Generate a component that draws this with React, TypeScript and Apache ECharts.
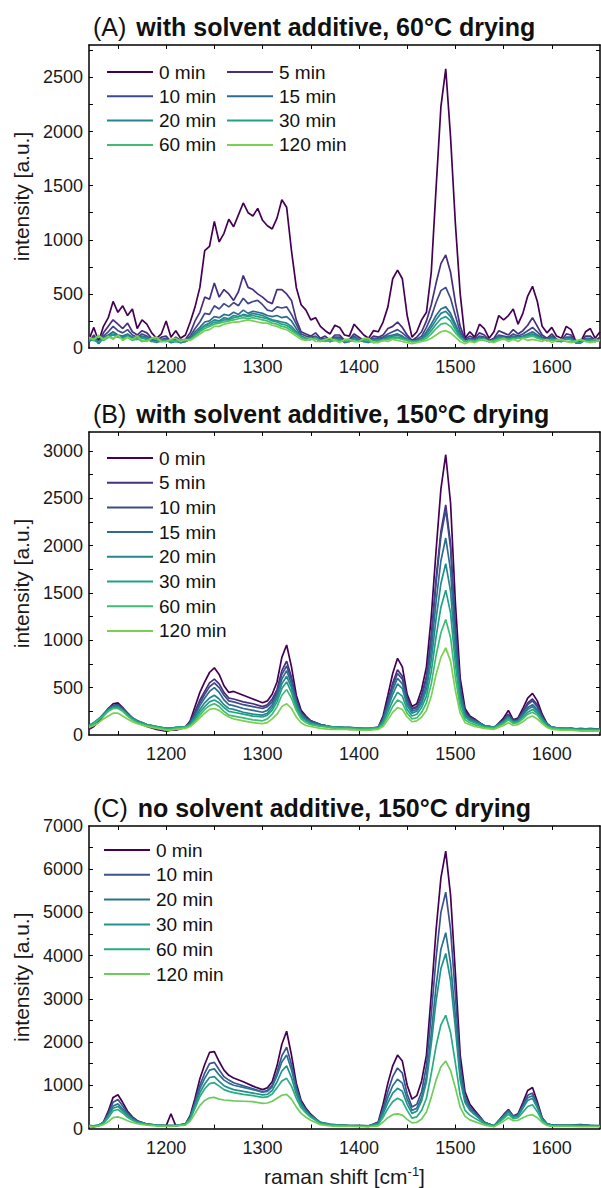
import React, { useEffect, useRef } from "react";
import * as echarts from "echarts";

const FONT = "'Liberation Sans', Arial, Helvetica, sans-serif";

// Raman shift sampling positions [cm^-1] for panel A (every 5 cm^-1)
const ramanShiftA = [
  1120, 1125, 1130, 1135, 1140, 1145, 1150, 1155, 1160, 1165,
  1170, 1175, 1180, 1185, 1190, 1195, 1200, 1205, 1210, 1215,
  1220, 1225, 1230, 1235, 1240, 1245, 1250, 1255, 1260, 1265,
  1270, 1275, 1280, 1285, 1290, 1295, 1300, 1305, 1310, 1315,
  1320, 1325, 1330, 1335, 1340, 1345, 1350, 1355, 1360, 1365,
  1370, 1375, 1380, 1385, 1390, 1395, 1400, 1405, 1410, 1415,
  1420, 1425, 1430, 1435, 1440, 1445, 1450, 1455, 1460, 1465,
  1470, 1475, 1480, 1485, 1490, 1495, 1500, 1505, 1510, 1515,
  1520, 1525, 1530, 1535, 1540, 1545, 1550, 1555, 1560, 1565,
  1570, 1575, 1580, 1585, 1590, 1595, 1600, 1605, 1610, 1615,
  1620, 1625, 1630, 1635, 1640, 1645, 1650,
];

// Raman shift sampling positions [cm^-1] for panels B and C
const ramanShift = [
  1120, 1125, 1130, 1135, 1140, 1145, 1150, 1155, 1160, 1165, 1170,
  1180, 1190, 1200, 1205, 1210, 1220,
  1225, 1230, 1235, 1240, 1245, 1250, 1255, 1260, 1265, 1270,
  1280, 1290, 1300,
  1305, 1310, 1315, 1320, 1325, 1330, 1335, 1340, 1345, 1350,
  1360, 1370, 1380, 1390, 1400, 1410, 1420,
  1425, 1430, 1435, 1440, 1445, 1450, 1455, 1460, 1465, 1470, 1475, 1480, 1485, 1490, 1495, 1500, 1505, 1510, 1515,
  1520, 1530, 1540, 1550,
  1555, 1560, 1565, 1570, 1575, 1580, 1585, 1590, 1595,
  1600, 1610, 1620, 1630, 1640, 1650,
];

const timesAB = ["0 min", "5 min", "10 min", "15 min", "20 min", "30 min", "60 min", "120 min"];
const timesC = ["0 min", "10 min", "20 min", "30 min", "60 min", "120 min"];

const xTickLabels = [1200, 1300, 1400, 1500, 1600];
const xTicks = [1150, 1200, 1250, 1300, 1350, 1400, 1450, 1500, 1550, 1600];
const yLabelsA = [0, 500, 1000, 1500, 2000, 2500];
const yTicksA = [250, 500, 750, 1000, 1250, 1500, 1750, 2000, 2250, 2500, 2750];
const yLabelsB = [0, 500, 1000, 1500, 2000, 2500, 3000];
const yTicksB = [250, 500, 750, 1000, 1250, 1500, 1750, 2000, 2250, 2500, 2750, 3000];
const yLabelsC = [0, 1000, 2000, 3000, 4000, 5000, 6000, 7000];
const yTicksC = [500, 1000, 1500, 2000, 2500, 3000, 3500, 4000, 4500, 5000, 5500, 6000, 6500];

// (A) with solvent additive, 60°C drying
const a0 = [
  80, 190, 60, 200, 280, 430, 330, 390, 300, 360,
  180, 260, 220, 140, 90, 130, 250, 100, 160, 90,
  120, 240, 380, 560, 900, 940, 1170, 980, 1060, 1190,
  1120, 1230, 1340, 1250, 1220, 1290, 1180, 1130, 1100, 1200,
  1370, 1300, 900, 560, 400, 350, 260, 280, 200, 160,
  130, 210, 190, 120, 110, 220, 170, 120, 90, 160,
  150, 240, 380, 640, 720, 640, 300, 100, 150, 260,
  330, 700, 1480, 2230, 2580, 1950, 1150, 500, 90, 150,
  100, 220, 180, 90, 150, 300, 260, 300, 360, 220,
  320, 480, 570, 430, 200, 140, 190, 110, 90, 200,
  170, 60, 60, 150, 180, 90, 150,
];
const a1 = [
  60, 120, 50, 140, 200, 260, 220, 180, 230, 150,
  120, 160, 140, 90, 70, 100, 110, 60, 100, 70,
  80, 140, 250, 330, 470, 450, 600, 470, 540, 500,
  440, 520, 670, 560, 540, 500, 470, 430, 410, 540,
  540, 500, 440, 260, 150, 130, 110, 140, 90, 110,
  70, 120, 120, 70, 80, 130, 100, 70, 70, 110,
  100, 120, 180, 200, 240, 190, 120, 70, 100, 150,
  250, 400, 600, 780, 860, 700, 420, 200, 80, 110,
  90, 140, 120, 70, 90, 160, 140, 120, 170, 130,
  160, 210, 280, 200, 120, 90, 130, 80, 70, 130,
  120, 50, 50, 110, 110, 70, 100,
];
const a2 = [
  70, 100, 50, 110, 150, 200, 160, 140, 170, 120,
  100, 130, 110, 80, 60, 80, 90, 60, 80, 60,
  70, 110, 180, 240, 320, 310, 390, 360, 410, 380,
  420, 390, 460, 410, 430, 440, 400, 350, 340, 380,
  370, 380, 310, 220, 130, 110, 100, 110, 80, 90,
  60, 100, 100, 60, 70, 110, 80, 60, 60, 90,
  90, 100, 130, 150, 170, 140, 100, 60, 80, 110,
  190, 290, 420, 530, 560, 460, 300, 150, 70, 90,
  80, 110, 100, 60, 80, 120, 110, 100, 130, 110,
  130, 160, 190, 150, 100, 80, 110, 70, 60, 100,
  100, 50, 50, 90, 90, 60, 80,
];
const a3 = [
  60, 90, 40, 100, 120, 150, 120, 110, 130, 100,
  90, 110, 100, 70, 50, 70, 80, 50, 70, 50,
  60, 90, 150, 190, 240, 250, 290, 280, 310, 300,
  330, 310, 350, 320, 340, 330, 320, 300, 290, 300,
  280, 290, 250, 180, 110, 90, 90, 100, 70, 80,
  60, 90, 90, 50, 60, 100, 70, 60, 60, 80,
  80, 90, 110, 120, 130, 110, 80, 60, 70, 90,
  150, 220, 300, 360, 380, 320, 220, 120, 60, 80,
  70, 100, 90, 60, 70, 110, 100, 90, 110, 100,
  110, 130, 150, 120, 90, 70, 100, 70, 60, 90,
  90, 50, 50, 80, 80, 60, 80,
];
const a4 = [
  70, 80, 50, 90, 110, 130, 110, 100, 120, 90,
  80, 100, 90, 60, 60, 60, 70, 50, 60, 50,
  60, 80, 130, 170, 210, 230, 260, 250, 280, 270,
  300, 290, 310, 300, 320, 310, 300, 280, 260, 250,
  240, 230, 200, 150, 100, 80, 80, 90, 70, 70,
  60, 80, 80, 60, 60, 90, 70, 60, 50, 70,
  70, 80, 100, 110, 120, 100, 80, 60, 60, 80,
  130, 190, 260, 320, 340, 290, 200, 110, 60, 70,
  70, 90, 80, 60, 70, 100, 90, 80, 100, 90,
  100, 120, 130, 110, 80, 70, 90, 70, 60, 90,
  80, 50, 50, 80, 80, 60, 70,
];
const a5 = [
  80, 70, 60, 80, 100, 120, 100, 90, 110, 80,
  80, 90, 80, 60, 60, 70, 70, 60, 60, 60,
  60, 80, 120, 160, 200, 210, 240, 240, 260, 260,
  280, 290, 300, 290, 300, 290, 280, 270, 250, 240,
  220, 210, 180, 140, 100, 80, 80, 90, 60, 70,
  60, 70, 70, 60, 60, 80, 60, 70, 60, 70,
  70, 70, 90, 100, 100, 90, 70, 60, 60, 80,
  110, 160, 220, 270, 290, 250, 170, 100, 60, 70,
  70, 80, 80, 60, 60, 90, 90, 80, 90, 90,
  100, 110, 120, 100, 80, 70, 80, 60, 60, 80,
  80, 50, 50, 70, 70, 60, 70,
];
const a6 = [
  90, 70, 110, 70, 100, 90, 110, 80, 100, 70,
  90, 60, 70, 90, 80, 60, 60, 70, 60, 80,
  70, 80, 110, 150, 180, 200, 220, 230, 240, 250,
  260, 270, 280, 270, 280, 270, 260, 250, 230, 220,
  200, 190, 160, 130, 100, 80, 80, 90, 70, 60,
  70, 80, 60, 70, 70, 60, 60, 80, 70, 50,
  60, 70, 80, 90, 90, 80, 70, 60, 60, 70,
  90, 130, 180, 220, 230, 200, 140, 90, 60, 70,
  60, 80, 70, 60, 70, 80, 80, 80, 80, 90,
  90, 100, 110, 90, 80, 70, 70, 80, 70, 60,
  60, 70, 70, 60, 60, 80, 70,
];
const a7 = [
  100, 80, 120, 80, 110, 80, 120, 70, 100, 80,
  110, 70, 60, 90, 100, 60, 60, 80, 90, 60,
  80, 70, 100, 130, 160, 170, 200, 200, 220, 230,
  240, 240, 250, 260, 250, 240, 230, 230, 210, 200,
  180, 170, 140, 110, 80, 70, 90, 60, 60, 80,
  90, 70, 50, 80, 80, 60, 60, 90, 90, 50,
  50, 70, 60, 80, 70, 60, 50, 40, 50, 60,
  70, 90, 120, 150, 160, 140, 100, 60, 40, 60,
  50, 70, 80, 60, 50, 70, 90, 60, 80, 60,
  90, 70, 80, 70, 60, 80, 50, 70, 80, 60,
  50, 60, 80, 60, 50, 60, 70,
];

// (B) with solvent additive, 150°C drying
const b0 = [60,90,140,200,280,330,340,290,230,170,130, 90,60,40,50,50,80, 150,300,450,560,660,710,640,520,450,460, 420,380,340, 360,430,560,820,950,720,420,260,200,150, 110,80,70,60,60,50,80, 200,420,650,810,720,430,300,330,480,720,1250,1950,2600,2960,2450,1400,600,280,200, 170,90,70,180, 260,160,180,280,390,440,360,220,120, 80,60,70,50,60,50];
const b1 = [70,100,150,210,270,310,320,280,230,180,140, 100,80,60,60,70,90, 140,250,370,460,550,590,540,450,390,380, 350,330,300, 320,380,480,680,780,610,380,240,190,150, 110,90,80,70,70,60,80, 180,360,550,690,620,390,280,300,420,620,1050,1650,2150,2430,2020,1150,500,250,190, 160,100,80,160, 220,150,170,250,340,380,320,200,120, 80,70,70,60,60,60];
const b2 = [80,110,160,220,280,310,320,280,230,180,150, 110,80,70,70,70,90, 130,230,340,430,510,550,500,420,360,350, 320,300,280, 300,350,450,640,730,580,360,230,180,140, 110,90,80,70,70,60,80, 170,340,520,650,590,370,270,290,400,600,1020,1610,2100,2380,1980,1120,490,240,180, 150,100,80,150, 210,150,160,240,320,360,300,190,110, 80,70,60,70,60,60];
const b3 = [90,120,160,210,270,300,310,270,220,180,150, 110,90,70,70,70,90, 120,210,310,390,460,500,450,370,320,310, 280,260,240, 260,320,420,590,680,540,340,220,170,140, 110,90,80,80,70,70,80, 160,310,480,600,540,340,250,270,360,530,900,1410,1840,2080,1740,990,440,220,170, 150,100,80,150, 200,140,150,220,290,320,270,180,110, 80,70,60,60,70,60];
const b4 = [100,130,170,220,270,300,300,260,220,180,150, 110,90,70,70,80,90, 120,190,270,340,390,420,380,320,280,270, 240,220,210, 230,290,390,540,620,500,320,210,160,130, 100,90,80,80,70,70,80, 150,280,430,540,490,310,230,250,330,480,790,1230,1600,1810,1520,870,400,210,160, 140,100,80,140, 190,140,150,210,270,300,250,170,110, 80,70,70,60,60,60];
const b5 = [100,130,170,210,260,290,290,260,210,170,140, 110,90,70,70,80,90, 110,170,240,300,350,370,340,290,250,240, 220,200,190, 210,260,350,490,560,450,290,190,150,120, 100,90,80,70,70,70,80, 130,240,360,450,410,270,200,220,290,410,670,1040,1350,1530,1290,750,350,190,150, 130,90,80,130, 180,130,140,190,240,270,230,160,100, 80,70,60,60,60,50];
const b6 = [90,120,160,200,250,280,280,250,200,160,130, 100,80,60,60,70,80, 100,150,210,270,310,330,300,250,210,200, 180,160,150, 170,220,300,420,480,390,260,170,130,110, 90,80,70,70,60,60,70, 110,200,300,370,340,230,170,180,240,340,540,840,1080,1220,1030,610,290,160,130, 110,80,70,120, 160,120,130,170,220,240,210,140,90, 70,60,60,50,50,50];
const b7 = [80,100,130,170,200,230,230,200,170,140,120, 90,70,50,50,60,70, 90,130,180,230,270,280,260,220,190,170, 150,130,120, 130,170,220,300,330,280,190,130,100,90, 70,60,60,60,50,50,60, 90,160,240,290,270,190,140,150,190,260,410,640,820,920,780,470,230,130,110, 90,70,60,100, 130,100,110,140,180,200,170,120,80, 60,50,50,40,40,40];

// (C) no solvent additive, 150°C drying
const c0 = [50,40,60,150,400,720,780,600,400,270,180, 100,70,60,340,60,100, 300,700,1150,1480,1760,1780,1550,1350,1230,1170, 1080,980,900, 940,1080,1450,1950,2250,1700,1050,650,470,330, 130,80,70,60,60,50,150, 560,1050,1450,1700,1560,1000,680,760,1100,1700,3100,4600,5800,6420,5400,3600,1700,850,560, 420,150,50,320, 440,290,340,600,880,950,620,250,110, 80,70,80,90,70,60];
const c1 = [60,50,70,140,350,610,670,520,360,250,170, 100,80,70,70,70,100, 270,620,1000,1280,1500,1530,1360,1200,1120,1060, 990,920,850, 880,1000,1300,1680,1880,1480,950,600,430,300, 140,90,80,70,70,60,140, 460,860,1200,1400,1280,800,500,560,850,1450,2650,3950,5000,5470,4600,3100,1450,750,500, 380,140,60,300, 420,280,320,540,770,820,560,230,110, 80,70,70,80,70,60];
const c2 = [70,60,80,140,310,520,570,450,320,230,160, 100,80,70,70,70,110, 260,580,920,1160,1350,1380,1240,1120,1050,1000, 950,900,840, 860,960,1220,1540,1700,1360,900,580,420,300, 140,100,80,70,70,60,120, 390,720,990,1140,1050,680,420,470,720,1200,2200,3300,4150,4530,3820,2600,1250,660,450, 350,140,60,290, 400,270,300,500,710,760,520,220,110, 80,80,70,80,70,70];
const c3 = [70,60,80,130,280,470,510,410,300,210,150, 100,80,70,70,70,110, 240,520,830,1030,1180,1200,1090,990,940,900, 860,820,780, 790,880,1080,1330,1450,1180,800,530,390,280, 130,90,80,70,70,60,110, 330,600,820,930,860,560,350,400,640,1080,1960,2950,3700,4050,3420,2320,1120,600,420, 320,130,60,270, 380,260,290,470,650,700,480,210,100, 80,70,80,70,70,60];
const c4 = [60,50,70,120,250,410,440,360,260,190,140, 90,70,60,60,70,100, 220,470,740,920,1040,1060,980,900,860,830, 790,760,720, 730,800,940,1100,1160,980,700,480,360,260, 120,80,70,60,60,50,90, 260,460,620,700,640,420,240,270,420,700,1270,1910,2400,2620,2220,1520,760,420,310, 240,110,50,230, 330,230,250,380,510,550,390,180,90, 70,60,70,60,60,50];
const c5 = [50,40,60,90,160,250,270,230,180,140,110, 80,60,50,50,60,80, 170,350,530,650,710,720,680,660,650,640, 630,620,580, 590,630,700,770,790,680,500,350,260,190, 90,60,50,50,40,40,60, 150,250,320,340,310,210,130,140,220,380,720,1120,1430,1560,1340,940,490,280,200, 160,80,40,170, 250,180,190,250,300,320,250,140,70, 50,50,50,40,40,40];

const viridis8 = ["#440154", "#472f7d", "#3e4a89", "#2f6b8e", "#24878e", "#1fa187", "#3fbc73", "#7ad151"];
const viridis6 = ["#440154", "#3b528b", "#2c728e", "#21918c", "#27ad81", "#6ccd5a"];

const GRID_LEFT = 89;
const GRID_WIDTH = 511;
const GRID_HEIGHT = 303;

const panels = [
  {
    key: "A", tag: "(A)", title: "with solvent additive, 60°C drying", top: 45, yMax: 2800,
    yLabels: yLabelsA, yTicks: yTicksA, names: timesAB, colors: viridis8, xs: ramanShiftA,
    values: [a0, a1, a2, a3, a4, a5, a6, a7],
    legends: [{ idx: [0, 2, 4, 6], left: 107 }, { idx: [1, 3, 5, 7], left: 227 }],
    legendTop: 62, legendGap: 4.3,
  },
  {
    key: "B", tag: "(B)", title: "with solvent additive, 150°C drying", top: 432, yMax: 3200,
    yLabels: yLabelsB, yTicks: yTicksB, names: timesAB, colors: viridis8, xs: ramanShift,
    values: [b0, b1, b2, b3, b4, b5, b6, b7],
    legends: [{ idx: [0, 1, 2, 3, 4, 5, 6, 7], left: 107 }],
    legendTop: 448, legendGap: 4.7,
  },
  {
    key: "C", tag: "(C)", title: "no solvent additive, 150°C drying", top: 826, yMax: 7000,
    yLabels: yLabelsC, yTicks: yTicksC, names: timesC, colors: viridis6, xs: ramanShift,
    values: [c0, c1, c2, c3, c4, c5],
    legends: [{ idx: [0, 1, 2, 3, 4, 5], left: 104 }],
    legendTop: 840, legendGap: 4.8,
  },
];

function buildOption() {
  const grid: any[] = [];
  const xAxis: any[] = [];
  const yAxis: any[] = [];
  const series: any[] = [];
  const legend: any[] = [];
  const title: any[] = [];
  const axisLineStyle = { color: "#000", width: 1.5 };
  const tickStyle = { color: "#000", width: 1 };
  const labelStyle = { fontSize: 18, color: "#1a1a1a", fontFamily: FONT };
  const plain = (v: number) => String(v);

  panels.forEach((p, i) => {
    grid.push({ left: GRID_LEFT, top: p.top, width: GRID_WIDTH, height: GRID_HEIGHT, containLabel: false });
    const isLast = i === panels.length - 1;
    xAxis.push({
      gridIndex: i, type: "value", position: "bottom", min: 1120, max: 1650,
      axisLine: { show: true, onZero: false, lineStyle: axisLineStyle },
      axisTick: { show: true, inside: true, length: 4, customValues: xTicks, lineStyle: tickStyle },
      axisLabel: { show: true, customValues: xTickLabels, margin: 10, formatter: plain, ...labelStyle },
      splitLine: { show: false },
      ...(isLast
        ? {
            name: "{a|raman shift [cm}{s|-1}{a|]}",
            nameLocation: "middle",
            nameGap: 36,
            nameTextStyle: {
              rich: {
                a: { fontSize: 21, color: "#1a1a1a", fontFamily: FONT, lineHeight: 24 },
                s: { fontSize: 13, color: "#1a1a1a", fontFamily: FONT, verticalAlign: "top", lineHeight: 14 },
              },
            },
          }
        : {}),
    });
    xAxis.push({
      gridIndex: i, type: "value", position: "top", min: 1120, max: 1650,
      axisLine: { show: true, onZero: false, lineStyle: axisLineStyle },
      axisTick: { show: true, inside: true, length: 4, customValues: xTicks, lineStyle: tickStyle },
      axisLabel: { show: false },
      splitLine: { show: false },
    });
    yAxis.push({
      gridIndex: i, type: "value", position: "left", min: 0, max: p.yMax,
      axisLine: { show: true, onZero: false, lineStyle: axisLineStyle },
      axisTick: { show: true, inside: true, length: 4, customValues: p.yTicks, lineStyle: tickStyle },
      axisLabel: { show: true, customValues: p.yLabels, margin: 6, formatter: plain, ...labelStyle },
      splitLine: { show: false },
      name: "intensity [a.u.]",
      nameLocation: "middle",
      nameGap: 56,
      nameTextStyle: { fontSize: 21, color: "#1a1a1a", fontFamily: FONT },
    });
    yAxis.push({
      gridIndex: i, type: "value", position: "right", min: 0, max: p.yMax,
      axisLine: { show: true, onZero: false, lineStyle: axisLineStyle },
      axisTick: { show: true, inside: true, length: 4, customValues: p.yTicks, lineStyle: tickStyle },
      axisLabel: { show: false },
      splitLine: { show: false },
    });

    p.values.forEach((vals, k) => {
      series.push({
        type: "line",
        name: `${p.key}:${p.names[k]}`,
        xAxisIndex: 2 * i,
        yAxisIndex: 2 * i,
        data: p.xs.map((x, j) => [x, vals[j]]),
        showSymbol: false,
        symbol: "none",
        color: p.colors[k],
        lineStyle: { width: 1.7, color: p.colors[k] },
        clip: true,
        z: 2 + k,
      });
    });

    p.legends.forEach((lg) => {
      legend.push({
        data: lg.idx.map((k) => `${p.key}:${p.names[k]}`),
        orient: "vertical",
        left: lg.left,
        top: p.legendTop,
        padding: 0,
        itemGap: p.legendGap,
        itemWidth: 46,
        itemHeight: 2,
        icon: "rect",
        selectedMode: false,
        formatter: (n: string) => n.split(":")[1],
        textStyle: { fontSize: 19, lineHeight: 20, color: "#111", fontFamily: FONT, padding: [0, 0, 0, 1] },
      });
    });

    title.push({
      text: `{n|${p.tag}}{b|${p.title}}`,
      left: 93,
      top: p.top - 31,
      padding: 0,
      textStyle: {
        rich: {
          n: { fontSize: 25, fontWeight: "normal", color: "#111", fontFamily: FONT, padding: [0, 10, 0, 0] },
          b: { fontSize: 25, fontWeight: "bold", color: "#111", fontFamily: FONT },
        },
      },
    });
  });

  return {
    animation: false,
    backgroundColor: "#fff",
    title,
    grid,
    xAxis,
    yAxis,
    legend,
    series,
  };
}

export default function App() {
  const ref = useRef<HTMLDivElement>(null);
  useEffect(() => {
    document.body.style.margin = "0";
    if (!ref.current) return;
    const chart = echarts.init(ref.current, undefined, { renderer: "svg" });
    chart.setOption(buildOption() as any);
    return () => {
      chart.dispose();
    };
  }, []);
  return <div ref={ref} style={{ width: 601, height: 1188 }} />;
}
